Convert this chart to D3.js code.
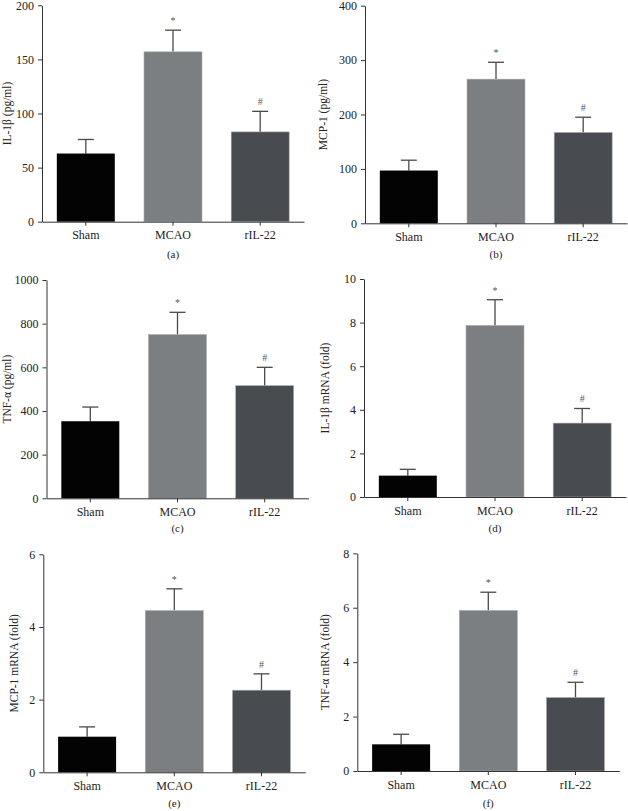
<!DOCTYPE html>
<html>
<head>
<meta charset="utf-8">
<script src="https://cdn.jsdelivr.net/npm/d3@7"></script>
<style>
  html, body { margin: 0; padding: 0; background: #fff; }
  svg { display: block; }
  text { font-family: "Liberation Serif", "DejaVu Serif", serif; fill: #222; }
</style>
</head>
<body>
<svg id="chart" width="628" height="811"></svg>
<script>
// ---- Data ----
const groups = ["Sham", "MCAO", "rIL-22"];
const panelLetters = ["(a)", "(b)", "(c)", "(d)", "(e)", "(f)"];
const yLabels = ["IL-1β (pg/ml)", "MCP-1 (pg/ml)", "TNF-α (pg/ml)", "IL-1β mRNA (fold)", "MCP-1 mRNA (fold)", "TNF-α mRNA (fold)"];
const yMax = [200, 400, 1000, 10, 6, 8];
const yStep = [50, 100, 200, 2, 2, 2];
const il1bProtein = [63, 157, 83];
const il1bProteinErr = [76, 177, 102];
const mcp1Protein = [97, 265, 167];
const mcp1ProteinErr = [116, 296, 195];
const tnfaProtein = [353, 750, 516];
const tnfaProteinErr = [418, 852, 600];
const il1bMrna = [0.98, 7.87, 3.39];
const il1bMrnaErr = [1.27, 9.05, 4.06];
const mcp1Mrna = [0.98, 4.45, 2.26];
const mcp1MrnaErr = [1.25, 5.05, 2.71];
const tnfaMrna = [0.98, 5.9, 2.7];
const tnfaMrnaErr = [1.35, 6.57, 3.26];
const marks = ["", "*", "#"];

const means = [il1bProtein, mcp1Protein, tnfaProtein, il1bMrna, mcp1Mrna, tnfaMrna];
const errTops = [il1bProteinErr, mcp1ProteinErr, tnfaProteinErr, il1bMrnaErr, mcp1MrnaErr, tnfaMrnaErr];

// ---- Layout (pixel frames for each panel) ----
const frames = [
  { x0: 42,  y0: 5.3,   y1: 221.7, labX: 7,   capY: 258 },
  { x0: 365, y0: 5.7,   y1: 223.3, labX: 323, capY: 258 },
  { x0: 46.5, y0: 280,  y1: 498.3, labX: 7,   capY: 532 },
  { x0: 364, y0: 279,   y1: 497,   labX: 325, capY: 532 },
  { x0: 43.3, y0: 554.3, y1: 772.3, labX: 14, capY: 807 },
  { x0: 357.3, y0: 553.3, y1: 771, labX: 325, capY: 807 }
];
const colors = ["#030303", "#7c7f82", "#484b4f"];

const svg = d3.select("#chart");

frames.forEach((f, i) => {
  const g = svg.append("g");
  const x = d3.scaleBand().domain(groups).range([f.x0, f.x0 + 262]).paddingInner(0.335).paddingOuter(0.17);
  const y = d3.scaleLinear().domain([0, yMax[i]]).range([f.y1, f.y0]);
  const ticks = d3.range(0, yMax[i] + yStep[i] / 2, yStep[i]);

  const data = groups.map((gname, k) => ({ g: gname, v: means[i][k], e: errTops[i][k], m: marks[k], c: colors[k] }));

  // error bars (upper only)
  const eb = g.append("g").attr("stroke", "#4a4a4a").attr("stroke-width", 1.3);
  data.forEach(d => {
    const cx = x(d.g) + x.bandwidth() / 2;
    eb.append("line").attr("x1", cx).attr("x2", cx).attr("y1", y(d.v)).attr("y2", y(d.e));
    eb.append("line").attr("x1", cx - 8).attr("x2", cx + 8).attr("y1", y(d.e)).attr("y2", y(d.e));
  });

  g.selectAll("rect.bar").data(data).enter().append("rect")
    .attr("class", "bar")
    .attr("x", d => x(d.g))
    .attr("width", x.bandwidth())
    .attr("y", d => y(d.v))
    .attr("height", d => y(0) - y(d.v))
    .attr("fill", d => d.c)
    .attr("stroke", d => d.c === colors[0] ? "none" : "#a9abad")
    .attr("stroke-width", 0.6);

  // significance marks
  g.selectAll("text.sig").data(data.filter(d => d.m)).enter().append("text")
    .attr("class", "sig")
    .attr("x", d => x(d.g) + x.bandwidth() / 2)
    .attr("y", d => y(d.e) - 6)
    .attr("text-anchor", "middle")
    .attr("font-size", 10)
    .style("fill", "#555")
    .text(d => d.m);

  // y axis
  const yAxis = d3.axisLeft(y).tickValues(ticks).tickSize(4).tickSizeOuter(0).tickPadding(4).tickFormat(d3.format("d"));
  const ya = g.append("g").attr("transform", `translate(${f.x0},0)`).call(yAxis);
  ya.attr("font-family", null);
  ya.select(".domain").attr("stroke", "#333");
  ya.selectAll(".tick line").attr("stroke", "#333");
  ya.selectAll(".tick text").attr("font-size", 12).style("font-family", '"Liberation Serif", serif').style("fill", "#222");

  // x axis
  const xAxis = d3.axisBottom(x).tickSize(4).tickSizeOuter(0).tickPadding(5);
  const xa = g.append("g").attr("transform", `translate(0,${f.y1})`).call(xAxis);
  xa.attr("font-family", null);
  xa.select(".domain").attr("stroke", "#333");
  xa.selectAll(".tick line").attr("stroke", "#333");
  xa.selectAll(".tick text").attr("font-size", 12).style("font-family", '"Liberation Serif", serif').style("fill", "#222");

  // y label
  g.append("text")
    .attr("transform", `translate(${f.labX + 4},${(f.y0 + f.y1) / 2}) rotate(-90)`)
    .attr("text-anchor", "middle")
    .attr("font-size", 11.5)
    .text(yLabels[i]);

  // panel caption
  g.append("text")
    .attr("x", x("MCAO") + x.bandwidth() / 2)
    .attr("y", f.capY)
    .attr("text-anchor", "middle")
    .attr("font-size", 11)
    .text(panelLetters[i]);
});
</script>
</body>
</html>
